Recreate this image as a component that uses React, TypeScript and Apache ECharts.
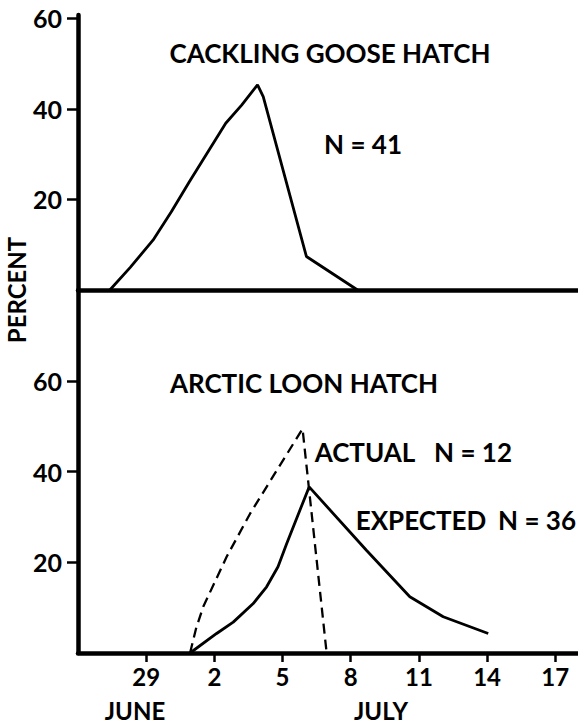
import React, { useEffect, useRef } from "react";
import * as echarts from "echarts";

// Days counted from June 1 (June 29 = 29, July 2 = 32, ... July 17 = 47)
const xTickDays = [29, 32, 35, 38, 41, 44, 47];
const xTickLabels = ["29", "2", "5", "8", "11", "14", "17"];
const yTickValues = [20, 40, 60];

// Cackling goose hatch (percent)
const gooseDays = [27.4, 28.3, 29.3, 30.1, 30.9, 32.5, 33.2, 33.9, 34.15, 36.05, 38.3];
const goosePct = [0, 5.0, 11, 17.2, 23.9, 36.8, 40.8, 45.3, 42.7, 7.4, 0];

// Arctic loon hatch, expected (solid) N = 36
const expectedDays = [30.93, 32.1, 32.83, 33.71, 34.3, 34.8, 35.18, 36.17, 38.7, 40.6, 42.07, 44.05];
const expectedPct = [0, 4.3, 6.8, 10.9, 14.6, 19.0, 24.1, 36.6, 22.6, 12.4, 8.0, 4.3];

// Arctic loon hatch, actual (dashed) N = 12
const actualDays = [30.93, 31.2, 31.51, 32.54, 33.57, 34.74, 35.88, 36.94];
const actualPct = [0, 5.5, 10.2, 21.2, 30.7, 40.2, 49.4, 0];

const FONT = "Lato, 'DejaVu Sans', sans-serif";

const zip = (xs: number[], ys: number[]) => xs.map((x, i) => [x, ys[i]]);

export default function App() {
  const ref = useRef<HTMLDivElement>(null);

  useEffect(() => {
    document.body.style.margin = "0";
    if (!ref.current) return;
    const chart = echarts.init(ref.current, null, { renderer: "svg" });

    const labelStyle = {
      color: "#000",
      fontSize: 25,
      fontWeight: "bold" as const,
      fontFamily: FONT,
    };

    const txt = (
      text: string,
      x: number,
      y: number,
      size = 25,
      align = "center",
      extra: any = {}
    ) => ({
      type: "text",
      x,
      y,
      ...extra,
      style: {
        text,
        fill: "#000",
        fontSize: size,
        fontWeight: "bold",
        fontFamily: FONT,
        align,
        verticalAlign: "middle",
      },
    });

    chart.setOption({
      animation: false,
      backgroundColor: "#fff",
      grid: [
        { left: 78, right: 0, top: 15, height: 275 },
        { left: 78, right: 0, top: 290, height: 363 },
      ],
      xAxis: [
        {
          type: "value",
          gridIndex: 0,
          min: 26,
          max: 48,
          axisLine: { show: true, lineStyle: { color: "#000", width: 4.5 } },
          axisTick: { show: false },
          axisLabel: { show: false },
          splitLine: { show: false },
        },
        {
          type: "value",
          gridIndex: 1,
          min: 26,
          max: 48,
          axisLine: { show: true, lineStyle: { color: "#000", width: 4.5 } },
          axisTick: {
            show: true,
            customValues: xTickDays,
            length: 9,
            lineStyle: { color: "#000", width: 2.5 },
          },
          axisLabel: {
            show: true,
            customValues: xTickDays,
            margin: 11,
            formatter: (v: number) => {
              const i = xTickDays.indexOf(Math.round(v));
              return i >= 0 ? xTickLabels[i] : "";
            },
            ...labelStyle,
            fontSize: 24,
          },
          splitLine: { show: false },
        },
      ],
      yAxis: [
        {
          type: "value",
          gridIndex: 0,
          min: 0,
          max: 60.7,
          axisLine: { show: true, lineStyle: { color: "#000", width: 4.5 } },
          axisTick: {
            show: true,
            customValues: yTickValues,
            length: 11,
            lineStyle: { color: "#000", width: 2.5 },
          },
          axisLabel: { show: true, customValues: yTickValues, margin: 16, ...labelStyle },
          splitLine: { show: false },
        },
        {
          type: "value",
          gridIndex: 1,
          min: 0,
          max: 80,
          axisLine: { show: true, lineStyle: { color: "#000", width: 4.5 } },
          axisTick: {
            show: true,
            customValues: yTickValues,
            length: 11,
            lineStyle: { color: "#000", width: 2.5 },
          },
          axisLabel: { show: true, customValues: yTickValues, margin: 16, ...labelStyle },
          splitLine: { show: false },
        },
      ],
      series: [
        {
          name: "Cackling goose hatch",
          type: "line",
          xAxisIndex: 0,
          yAxisIndex: 0,
          data: zip(gooseDays, goosePct),
          showSymbol: false,
          lineStyle: { color: "#000", width: 2.8 },
        },
        {
          name: "Expected",
          type: "line",
          xAxisIndex: 1,
          yAxisIndex: 1,
          data: zip(expectedDays, expectedPct),
          showSymbol: false,
          lineStyle: { color: "#000", width: 2.8 },
        },
        {
          name: "Actual",
          type: "line",
          xAxisIndex: 1,
          yAxisIndex: 1,
          data: zip(actualDays, actualPct),
          showSymbol: false,
          lineStyle: { color: "#000", width: 2.3, type: [10, 6] },
        },
      ],
      graphic: [
        txt("CACKLING GOOSE HATCH", 330, 53, 26),
        txt("N = 41", 363, 144, 26),
        txt("ARCTIC LOON HATCH", 304, 383, 26),
        txt("ACTUAL", 365, 452, 26),
        txt("N = 12", 473, 452, 26),
        txt("EXPECTED", 421, 520, 26),
        txt("N = 36", 576, 520, 26, "right"),
        txt("JUNE", 135, 710, 24),
        txt("JULY", 381, 710, 24),
        txt("PERCENT", 16, 290, 24, "center", { rotation: Math.PI / 2 }),
      ],
    });

    return () => chart.dispose();
  }, []);

  return <div ref={ref} style={{ width: 578, height: 724 }} />;
}
